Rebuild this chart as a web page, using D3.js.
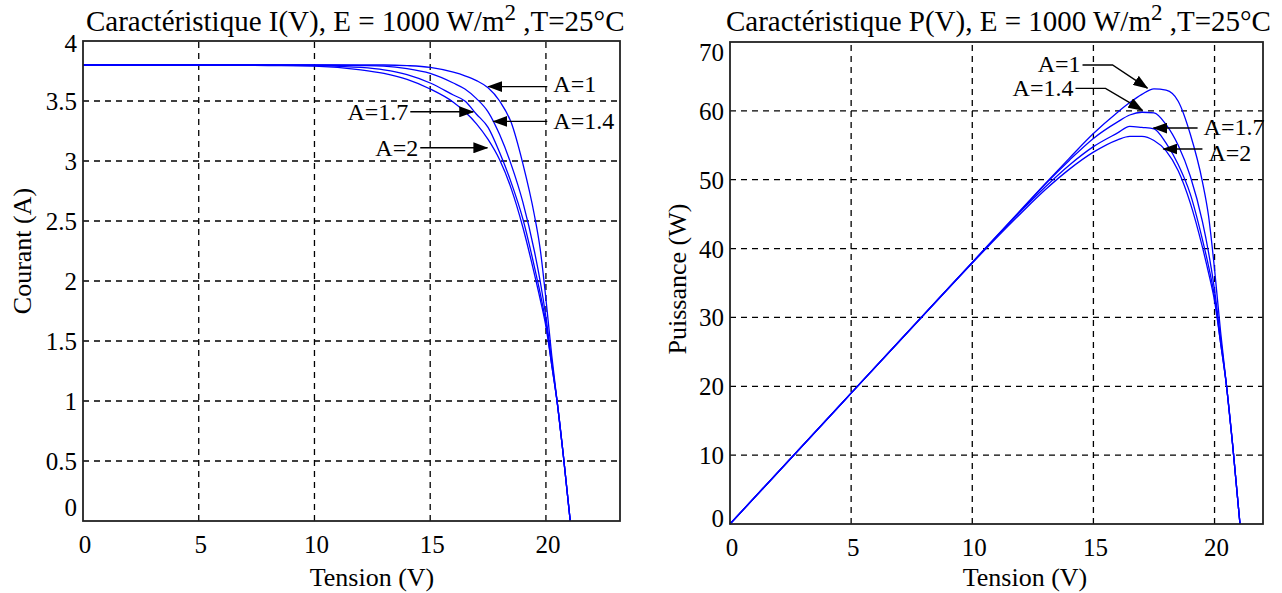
<!DOCTYPE html>
<html>
<head>
<meta charset="utf-8">
<script src="https://cdn.jsdelivr.net/npm/d3@7"></script>
<style>
  body { margin: 0; background: #fff; }
  text { font-family: "Liberation Serif", "Times New Roman", serif; fill: #000; }
</style>
</head>
<body>
<div id="chart"></div>
<script>
// 1: DATA
const tension = [0, 5, 8, 10, 12, 13, 14, 15, 16, 16.5, 17, 17.5, 18, 18.5, 19, 19.5, 19.75, 20, 20.25, 20.5, 20.75, 21.05];

// courant (A) for each ideality factor A
const courantA1  = [3.8, 3.8, 3.8, 3.8, 3.8, 3.8, 3.795, 3.78, 3.74, 3.71, 3.67, 3.61, 3.5, 3.32, 2.98, 2.55, 2.27, 1.85, 1.38, 0.97, 0.55, 0];
const courantA14 = [3.8, 3.8, 3.8, 3.8, 3.795, 3.79, 3.77, 3.73, 3.65, 3.6, 3.52, 3.41, 3.22, 2.97, 2.66, 2.25, 2.0, 1.7, 1.33, 0.97, 0.55, 0];
const courantA17 = [3.8, 3.8, 3.8, 3.795, 3.78, 3.76, 3.72, 3.65, 3.55, 3.5, 3.39, 3.28, 3.07, 2.82, 2.52, 2.12, 1.9, 1.65, 1.3, 0.97, 0.55, 0];
const courantA2  = [3.8, 3.8, 3.795, 3.79, 3.76, 3.73, 3.68, 3.6, 3.49, 3.41, 3.31, 3.18, 3.01, 2.77, 2.45, 2.06, 1.85, 1.62, 1.3, 0.97, 0.55, 0];

// puissance (W) for each ideality factor A
const puissanceA1  = [0, 19, 30.4, 38, 45.6, 49.4, 53.1, 56.7, 59.8, 61.2, 62.4, 63.2, 63.0, 61.4, 56.6, 49.7, 44.8, 37.0, 27.9, 19.9, 11.4, 0];
const puissanceA14 = [0, 19, 30.4, 38, 45.5, 49.3, 52.8, 56.0, 58.4, 59.4, 59.8, 59.7, 58.0, 55.0, 50.5, 43.9, 39.5, 34.0, 26.9, 19.9, 11.4, 0];
const puissanceA17 = [0, 19, 30.4, 37.95, 45.4, 48.9, 52.1, 54.8, 56.8, 57.75, 57.6, 57.4, 55.3, 52.2, 47.9, 41.3, 37.5, 33.0, 26.3, 19.9, 11.4, 0];
const puissanceA2  = [0, 19, 30.36, 37.9, 45.1, 48.5, 51.5, 54.0, 55.8, 56.3, 56.3, 55.7, 54.2, 51.3, 46.6, 40.2, 36.5, 32.4, 26.3, 19.9, 11.4, 0];

const xTicks = [0, 5, 10, 15, 20];
const yTicksCourant = [0, 0.5, 1, 1.5, 2, 2.5, 3, 3.5, 4];
const yTicksPuissance = [0, 10, 20, 30, 40, 50, 60, 70];

const labelsA = ["A=1", "A=1.4", "A=1.7", "A=2"];

// annotation arrows, in data units: [tail, (elbow), tip]
const notesCourant = [
  { label: labelsA[0], pts: [[20.06, 3.62], [17.51, 3.62]], side: "start", dy: 5 },
  { label: labelsA[1], pts: [[20.06, 3.33], [17.73, 3.33]], side: "start", dy: 8 },
  { label: labelsA[2], pts: [[14.14, 3.41], [16.86, 3.41]], side: "end", dy: 8 },
  { label: labelsA[3], pts: [[14.57, 3.11], [17.47, 3.11]], side: "end", dy: 8 }
];
const notesPuissance = [
  { label: labelsA[0], pts: [[14.55, 66.66], [15.79, 66.66], [17.23, 63.3]], side: "end", dy: 7 },
  { label: labelsA[1], pts: [[14.26, 63.27], [15.5, 63.27], [17.02, 60.1]], side: "end", dy: 8 },
  { label: labelsA[2], pts: [[19.3, 57.5], [17.48, 57.5]], side: "start", dy: 7 },
  { label: labelsA[3], pts: [[19.5, 54.46], [17.89, 54.46]], side: "start", dy: 12 }
];

// 2: SVG
const svg = d3.select("#chart").append("svg")
  .attr("width", 1282)
  .attr("height", 593);

svg.append("defs").append("marker")
  .attr("id", "head")
  .attr("markerUnits", "userSpaceOnUse")
  .attr("markerWidth", 15)
  .attr("markerHeight", 11)
  .attr("refX", 14)
  .attr("refY", 5.5)
  .attr("orient", "auto")
  .append("path")
  .attr("d", "M0,0 L15,5.5 L0,11 Z")
  .attr("fill", "#000");

function drawPanel(cfg) {
  const x = d3.scaleLinear().domain(cfg.xDomain).range(cfg.xRange);
  const y = d3.scaleLinear().domain(cfg.yDomain).range(cfg.yRange);
  const g = svg.append("g");

  // grid
  g.selectAll(".gx").data(xTicks.filter(t => t > 0))
    .enter().append("line")
    .attr("x1", d => x(d)).attr("x2", d => x(d))
    .attr("y1", cfg.yRange[0]).attr("y2", cfg.yRange[1])
    .attr("stroke", "#000").attr("stroke-width", 1.3)
    .attr("stroke-dasharray", "6,5");
  g.selectAll(".gy").data(cfg.yTicks.slice(1, -1))
    .enter().append("line")
    .attr("y1", d => y(d)).attr("y2", d => y(d))
    .attr("x1", cfg.xRange[0]).attr("x2", cfg.xRange[1])
    .attr("stroke", "#000").attr("stroke-width", 1.3)
    .attr("stroke-dasharray", "6,5");

  // curves
  const line = d3.line()
    .x((d, i) => x(tension[i]))
    .y(d => y(d))
    .curve(d3.curveMonotoneX);
  g.selectAll(".curve").data(cfg.series)
    .enter().append("path")
    .attr("d", line)
    .attr("fill", "none")
    .attr("stroke", "#0000ff")
    .attr("stroke-width", 1.3);

  // frame
  g.append("rect")
    .attr("x", cfg.xRange[0]).attr("y", cfg.yRange[1])
    .attr("width", cfg.xRange[1] - cfg.xRange[0])
    .attr("height", cfg.yRange[0] - cfg.yRange[1])
    .attr("fill", "none").attr("stroke", "#222").attr("stroke-width", 1.8);

  // tick labels
  g.selectAll(".xl").data(xTicks)
    .enter().append("text")
    .attr("x", d => x(d) + 2)
    .attr("y", cfg.yRange[0] + 32)
    .attr("text-anchor", "middle")
    .attr("font-size", 25)
    .text(d => d);
  g.selectAll(".yl").data(cfg.yTicks)
    .enter().append("text")
    .attr("x", cfg.xRange[0] - 6)
    .attr("y", (d, i) => y(d) + 9 + (i === 0 ? cfg.firstNudge : 0) + (i === cfg.yTicks.length - 1 ? cfg.lastNudge : 0))
    .attr("text-anchor", "end")
    .attr("font-size", 25)
    .text(d => d);

  // axis labels
  g.append("text")
    .attr("x", cfg.xLabelX).attr("y", 586)
    .attr("text-anchor", "middle")
    .attr("font-size", 26)
    .text("Tension (V)");
  g.append("text")
    .attr("transform", `translate(${cfg.yLabelX},${cfg.yLabelY}) rotate(-90)`)
    .attr("text-anchor", "middle")
    .attr("font-size", 26)
    .text(cfg.yLabel);

  // title
  const t = g.append("text")
    .attr("x", cfg.titleX).attr("y", 31)
    .attr("font-size", 29);
  t.append("tspan").text(cfg.title);
  t.append("tspan").attr("dy", -11).attr("font-size", 23).text("2");
  t.append("tspan").attr("dy", 11).text(" ,T=25\u00B0C");

  // annotations
  cfg.notes.forEach(n => {
    const p = n.pts.map(d => [x(d[0]), y(d[1])]);
    g.append("path")
      .attr("d", d3.line()(p))
      .attr("fill", "none")
      .attr("stroke", "#000")
      .attr("stroke-width", 1.4)
      .attr("marker-end", "url(#head)");
    g.append("text")
      .attr("x", p[0][0] + (n.side === "start" ? 6 : -2))
      .attr("y", p[0][1] + n.dy)
      .attr("text-anchor", n.side)
      .attr("font-size", 24)
      .text(n.label);
  });
}

drawPanel({
  xDomain: [0, 23.2], xRange: [83, 620],
  yDomain: [0, 4], yRange: [521, 41],
  yTicks: yTicksCourant, firstNudge: -14, lastNudge: 2,
  series: [courantA1, courantA14, courantA17, courantA2],
  xLabelX: 372, yLabelX: 31, yLabelY: 251, yLabel: "Courant (A)",
  titleX: 86, title: "Caractéristique I(V), E = 1000 W/m",
  notes: notesCourant
});

drawPanel({
  xDomain: [0, 22], xRange: [730, 1263],
  yDomain: [0, 70], yRange: [524, 42],
  yTicks: yTicksPuissance, firstNudge: -6, lastNudge: 10,
  series: [puissanceA1, puissanceA14, puissanceA17, puissanceA2],
  xLabelX: 1025, yLabelX: 686, yLabelY: 279, yLabel: "Puissance (W)",
  titleX: 726, title: "Caractéristique P(V), E = 1000 W/m",
  notes: notesPuissance
});
</script>
</body>
</html>
